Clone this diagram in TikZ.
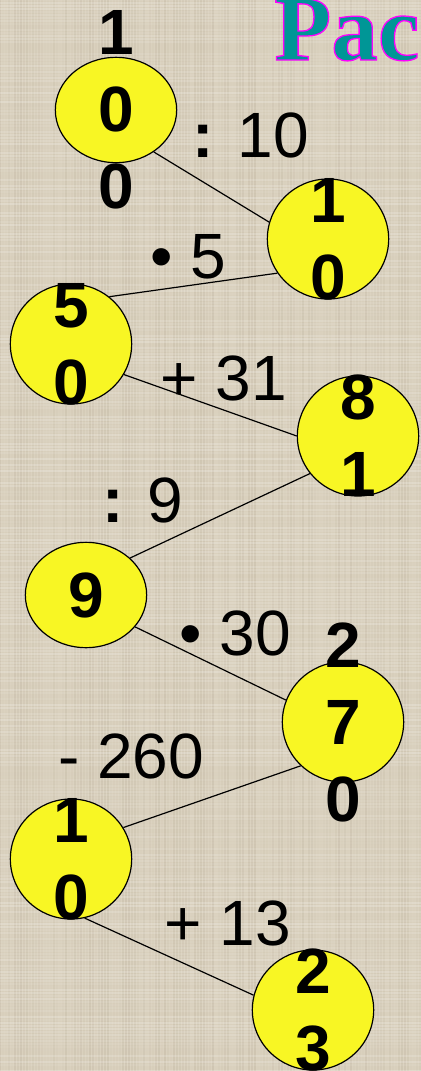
\documentclass[tikz,border=0pt]{standalone}
\usepackage{xcolor}
\usepackage{fontspec}
\usepackage{tikz}
\usetikzlibrary{shapes.geometric}
\setmainfont{Liberation Sans}
\newfontfamily\zagolovokFont[FakeBold=1.4]{Liberation Serif}
\definecolor{fonBezh}{RGB}{218,209,190}
\definecolor{fonTemny}{RGB}{168,156,134}
\definecolor{zheltyKrug}{RGB}{248,246,36}

\begin{document}
\begin{tikzpicture}[x=0.75pt,y=-0.75pt,
  krug/.style={ellipse,draw=black,line width=0.9pt,fill=zheltyKrug,inner sep=0pt,minimum width=91pt,minimum height=90pt},
  krugNizky/.style={krug,minimum height=79pt},
  cifry/.style={font=\fontsize{48}{57.75}\selectfont\bfseries,align=center,inner sep=0pt},
  deistvie/.style={font=\fontsize{48}{57.75}\selectfont,anchor=base,inner sep=0pt}]
\useasboundingbox (0,0) rectangle (421,1071);
\fill[fonBezh] (0,0) rectangle (421,1071);
% tkan': slabye polosy po fonu
\pgfmathsetseed{7}
\foreach \i in {0,3,...,420} {\pgfmathsetmacro\op{0.22*rnd}
  \draw[fonTemny,draw opacity=\op,line width=1pt] (\i,0)--(\i,1071);}
\foreach \j in {0,3,...,1071} {\pgfmathsetmacro\op{0.22*rnd}
  \draw[white,draw opacity=\op,line width=1pt] (0,\j)--(421,\j);}

% biryuzovy tekst s rozovym konturom
\node[anchor=base west,inner sep=0pt,font=\zagolovokFont\fontsize{70}{80}\selectfont\bfseries] (zag) at (274,60)
  {\special{pdf:bcolor [0 0.59 0.59] [1 0 1]}Рас\special{pdf:ecolor}};

\node[krugNizky] (n100) at (116,110) {};
\node[krug] (n10) at (328,239) {};
\node[krug] (n50) at (71,344) {};
\node[krug] (n81) at (358,436) {};
\node[krugNizky] (n9) at (86,595) {};
\node[krug] (n270) at (343,722) {};
\node[krug] (n10b) at (71,859) {};
\node[krug] (n23) at (313,1010) {};

\foreach \a/\b in {n100.-48/n10.164, n50.51/n10.-146, n50.-30/n81.180, n81.-142/n9.40,
  n9.-33/n270.159, n270.-134/n10b.31, n10b.-77/n23.166}
  \draw[line width=0.9pt] (\a)--(\b);

\node[cifry] (c100) at (n100) {1\\0\\0};
\node[cifry] (c10) at (n10) {1\\0};
\node[cifry] (c50) at (n50) {5\\0};
\node[cifry] (c81) at (n81) {8\\1};
\node[cifry] (c9) at (n9) {9};
\node[cifry] (c270) at (n270) {2\\7\\0};
\node[cifry] (c10b) at (n10b) {1\\0};
\node[cifry] (c23) at (n23) {2\\3};

\node[deistvie] (dDel10) at (251,157) {{\bfseries :} 10};
\node[deistvie] (dUmn5) at (188,278) {• 5};
\node[deistvie] (dPlus31) at (224,400) {+ 31};
\node[deistvie] (dDel9) at (143,522) {{\bfseries :} 9};
\node[deistvie] (dUmn30) at (235,655) {• 30};
\node[deistvie] (dMinus260) at (131,778) {- 260};
\node[deistvie] (dPlus13) at (228,945) {+ 13};
\end{tikzpicture}
\end{document}
